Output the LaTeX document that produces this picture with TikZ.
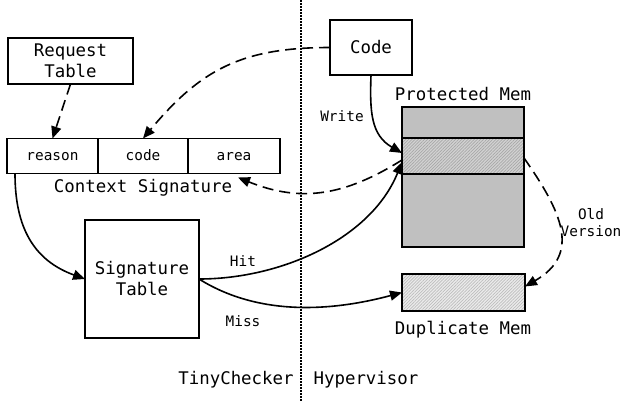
\documentclass[tikz,border=0pt]{standalone}
\usepackage{fontspec}
\setmainfont{DejaVu Sans Mono}
\usetikzlibrary{arrows.meta,patterns.meta}
\definecolor{memgray}{HTML}{C0C0C0}
\definecolor{hatchbase}{HTML}{D2D2D2}
\definecolor{hatchline}{HTML}{A8A8A8}
\definecolor{dupbase}{HTML}{EBEBEB}
\definecolor{dupline}{HTML}{BDBDBD}
\tikzset{
  box/.style={draw, line width=1.6pt, inner sep=0pt, outer sep=0pt, align=center, font=\fontsize{17.4}{21}\selectfont},
  cell/.style={draw, line width=1.6pt, inner sep=0pt, outer sep=0pt, minimum height=35pt, text height=10.5pt, text depth=2.5pt, font=\fontsize{14.4}{17}\selectfont},
  big/.style={font=\fontsize{17.4}{21}\selectfont, inner sep=0pt},
  small/.style={font=\fontsize{14.4}{17}\selectfont, inner sep=0pt, align=center},
  conn/.style={line width=1.6pt, -{Triangle[length=12pt,width=10pt]}},
  dconn/.style={conn, dash pattern=on 11pt off 6pt},
  memblk/.style={draw, line width=1.6pt, inner sep=0pt, outer sep=0pt, minimum width=122pt, fill=memgray},
  hatched/.style n args={2}{draw, line width=1.6pt, inner sep=0pt, outer sep=0pt, minimum width=122pt,
     preaction={fill=#1}, pattern={Lines[angle=45,distance=2.2pt,line width=0.7pt]}, pattern color=#2},
}
\begin{document}
\begin{tikzpicture}[x=1pt,y=-1pt]
\useasboundingbox (0,0) rectangle (621,402);
% divider
\coordinate (dtop) at (301,0);
\coordinate (dbot) at (301,402);
\draw[line width=1.5pt, dash pattern=on 1.5pt off 1.5pt] (dtop) -- (dbot);

% left side
\node[box, minimum width=125pt, minimum height=46pt] (req) at (70.5,61) {Request\\Table};
\node[cell, minimum width=91pt] (reason) at (52.5,156) {reason};
\node[cell, minimum width=90pt] (ccode) at (143,156) {code};
\node[cell, minimum width=92pt] (area) at (234,156) {area};
\node[big] (ctxlbl) at (143,188) {Context Signature};
\node[box, minimum width=114pt, minimum height=118pt] (sig) at (142,279) {Signature\\Table};

% right side
\node[box, minimum width=82pt, minimum height=55pt] (code) at (371,47.5) {Code};
\node[big] (pmlbl) at (463,94) {Protected Mem};
\node[memblk, minimum height=31pt] (pm1) at (463,122.5) {};
\node[hatched={hatchbase}{hatchline}, minimum height=36pt] (pm2) at (463,156) {};
\node[memblk, minimum height=73pt] (pm3) at (463,210.5) {};
\node[hatched={dupbase}{dupline}, minimum width=123pt, minimum height=37pt] (dup) at (463.5,292.5) {};
\node[big] (duplbl) at (463,330) {Duplicate Mem};

% labels
\node[big] (tc) at (236,380) {TinyChecker};
\node[big] (hv) at (366,380) {Hypervisor};
\node[small] (hit) at (243,261) {Hit};
\node[small] (miss) at (243,321) {Miss};
\node[small] (write) at (342,116) {Write};
\node[small] (old) at (591,223) {Old\\Version};

% connectors
\draw[dconn] (req.south) -- (reason.north);
\draw[dconn] (code.west) to[out=180,in=50,looseness=1.1] (ccode.north);
\draw[conn] (code.south) to[out=-92,in=150,looseness=1.1] ([yshift=3pt]pm2.west);
\draw[dconn] ([yshift=-4pt]pm2.west) to[out=212,in=-22,looseness=1.05] ([xshift=4pt,yshift=-4pt]area.south);
\draw[conn] ([xshift=-37.5pt]reason.south) to[out=-90,in=160,looseness=1.1] (sig.west);
\draw[conn] (sig.east) to[out=0,in=-112,looseness=0.9] ([yshift=-6pt]pm2.west);
\draw[conn] (sig.east) to[out=-32,in=195,looseness=0.9] (dup.west);
\draw[dconn] ([yshift=-2pt]pm2.east) to[out=-55,in=30,looseness=1.3] ([yshift=6pt]dup.east);
\end{tikzpicture}
\end{document}
